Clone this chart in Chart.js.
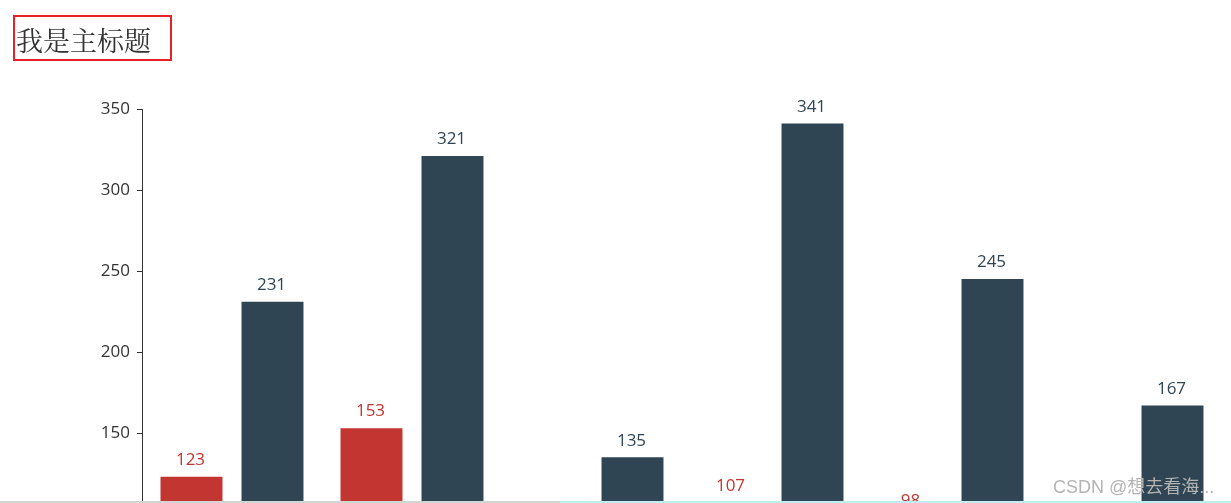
<!DOCTYPE html>
<html>
<head>
<meta charset="utf-8">
<script src="https://cdn.jsdelivr.net/npm/chart.js@4"></script>
<style>
  html, body { margin: 0; padding: 0; background: #fff; overflow: hidden; }
  body { width: 1231px; height: 503px; position: relative; }
  #wrap { position: absolute; left: 0; top: 0; width: 1231px; height: 700px; }
  #title {
    position: absolute; left: 13px; top: 15px; width: 155px; height: 42px;
    border: 2px solid #e8202a; box-sizing: content-box;
    font-family: "Noto Serif CJK SC", "Noto Sans CJK SC", serif; font-size: 27px;
    color: #333; line-height: 46px; text-indent: 1px; z-index: 2;
  }
  #mark {
    position: absolute; left: 1053px; top: 472px; font-family: "Liberation Sans", "Noto Sans CJK SC", sans-serif;
    font-size: 18px; color: #b4b4b4; z-index: 2;
  }
  #bottomline { position: absolute; left: 0; top: 501px; width: 1231px; height: 2px;
    background: linear-gradient(to right, #cfd8cf 0, #cfd8cf 560px, #bfeeee 560px, #bfeeee 100%); z-index: 2; }
</style>
</head>
<body>
<div id="title">我是主标题</div>
<div id="wrap"><canvas id="bar" width="1231" height="700"></canvas></div>
<div id="mark">CSDN @想去看海...</div>
<div id="bottomline"></div>
<script>
// 数据
var leibie = ['一', '二', '三', '四', '五', '六'];
var punane = [123, 153, 88, 107, 98, 76];
var tume = [231, 321, 135, 341, 245, 167];
var yTicks = [0, 50, 100, 150, 200, 250, 300, 350];

var punaneVarv = '#c23531';
var tumeVarv = '#2f4554';

// silt tulba kohale
var sildid = {
    id: 'sildid',
    afterDatasetsDraw: function (chart) {
        var ctx = chart.ctx;
        ctx.save();
        ctx.font = '17px "Open Sans", sans-serif';
        ctx.textAlign = 'center';
        ctx.textBaseline = 'bottom';
        chart.data.datasets.forEach(function (ds, i) {
            chart.getDatasetMeta(i).data.forEach(function (el, j) {
                ctx.fillStyle = ds.backgroundColor;
                ctx.fillText(ds.data[j], el.x - 1, el.y - 8);
            });
        });
        ctx.restore();
    }
};

new Chart(document.getElementById('bar'), {
    type: 'bar',
    data: {
        labels: leibie,
        datasets: [
            { data: punane, backgroundColor: punaneVarv },
            { data: tume, backgroundColor: tumeVarv }
        ]
    },
    options: {
        responsive: false,
        animation: false,
        layout: { padding: { top: 109, bottom: 24, right: 9, left: 0 } },
        plugins: { legend: { display: false }, tooltip: { enabled: false } },
        datasets: { bar: { categoryPercentage: 0.9, barPercentage: 0.765 } },
        scales: {
            x: { display: false },
            y: {
                min: 0, max: 350,
                afterBuildTicks: function (s) { s.ticks = yTicks.map(function (v) { return { value: v }; }); },
                afterFit: function (s) { s.width = 142; },
                grid: { drawOnChartArea: false, tickLength: 5, color: '#333', tickColor: '#333' },
                border: { display: true, color: '#333', width: 1 },
                ticks: { color: '#333', padding: 7, font: { size: 17, family: '"Open Sans", sans-serif' } }
            }
        }
    },
    plugins: [sildid]
});
</script>
</body>
</html>
